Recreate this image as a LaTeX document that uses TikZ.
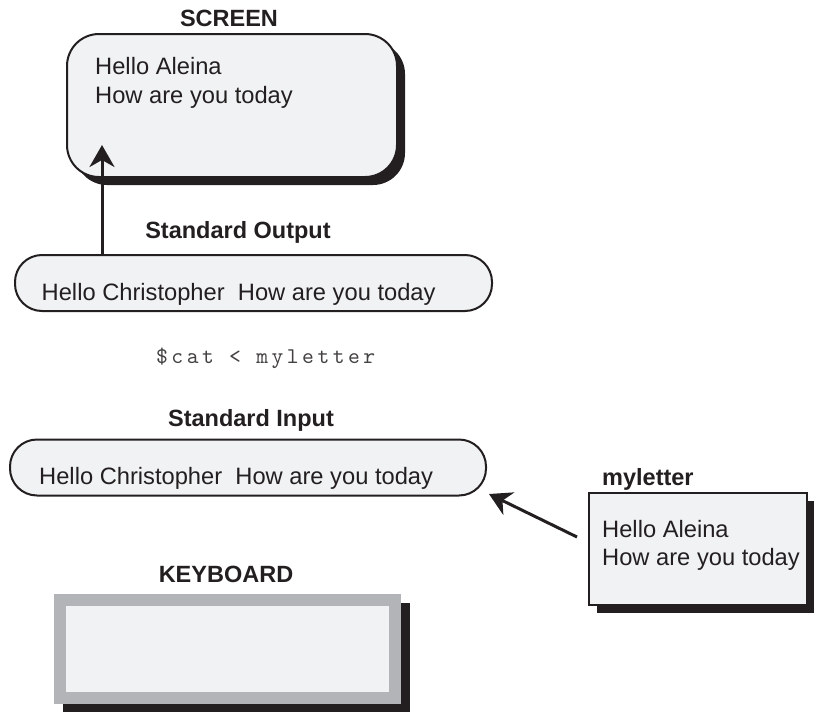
\documentclass[tikz,border=0pt]{standalone}
\usepackage{fontspec}
\setmainfont{Liberation Sans}
\newfontfamily\cmdfont[Extension=.otf, LetterSpace=15.5]{lmmono10-regular}
\usetikzlibrary{arrows.meta,shadows,backgrounds}
\definecolor{ink}{HTML}{231F20}
\definecolor{paper}{HTML}{F1F2F4}
\definecolor{frame}{HTML}{B2B4B7}
\tikzset{
  txt/.style={text=ink, inner sep=0pt, font=\fontsize{23.7}{29}\selectfont},
  heading/.style={txt, font=\fontsize{23.5}{29}\selectfont\bfseries, anchor=base},
  body/.style={txt, anchor=base west},
  panel/.style={draw=ink, line width=2pt, fill=paper, inner sep=0pt},
  blackshadow/.style={drop shadow={shadow xshift=8pt, shadow yshift=-8pt, opacity=1, fill=ink}},
  flow/.style={draw=ink, line width=3pt, -{Stealth[length=22pt,width=25pt,inset=7pt]}}
}
\begin{document}
\begin{tikzpicture}[x=1pt,y=-1pt]
\useasboundingbox (0,0) rectangle (814,712);

% screen
\node[heading] (screenlbl) at (229,26) {SCREEN};
\node[panel, blackshadow, rounded corners=32pt, minimum width=330pt, minimum height=143pt] (screen) at (232,105.5) {};
\node[body] (scr1) at (95,74) {Hello Aleina};
\node[body] (scr2) at (95,103) {How are you today};

% standard output
\node[heading] (outlbl) at (238,238) {Standard Output};
\node[panel, rounded corners=27pt, minimum width=477pt, minimum height=56pt] (outbox) at (253.5,283) {};
\node[body] (outtxt) at (41.5,300) {Hello Christopher\ \ How are you today};

% command line
\node[txt, anchor=base west, text=ink!85] (cmd) at (156,363) {\cmdfont\fontsize{22.5}{26}\selectfont \$cat < myletter};

% standard input
\node[heading] (inlbl) at (251,426) {Standard Input};
\node[panel, rounded corners=27pt, minimum width=476pt, minimum height=56pt] (inbox) at (248,467.5) {};
\node[body] (intxt) at (39,484) {Hello Christopher\ \ How are you today};

% file myletter
\node[txt, font=\fontsize{23.5}{29}\selectfont\bfseries, anchor=base west] (filelbl) at (602,485) {myletter};
\node[panel, blackshadow, minimum width=218pt, minimum height=112pt] (file) at (698,549) {};
\node[body] (file1) at (602,537) {Hello Aleina};
\node[body] (file2) at (602,565) {How are you today};

% keyboard
\node[heading] (kbdlbl) at (226,582) {KEYBOARD};
\node[draw=frame, line width=12pt, fill=paper, inner sep=0pt, minimum width=335pt, minimum height=98pt] (kbd) at (227.5,649) {};
\begin{scope}[on background layer]
  \fill[ink] ([shift={(9,9)}]kbd.north west) rectangle ([shift={(9,9)}]kbd.south east);
\end{scope}

% connectors
\coordinate (scrtip) at (102,145);
\draw[flow] (outbox.north -| scrtip) -- (scrtip);
\coordinate (filetail) at (577,537);
\coordinate (intip) at (489,494);
\draw[flow] (filetail) -- (intip);
\end{tikzpicture}
\end{document}
